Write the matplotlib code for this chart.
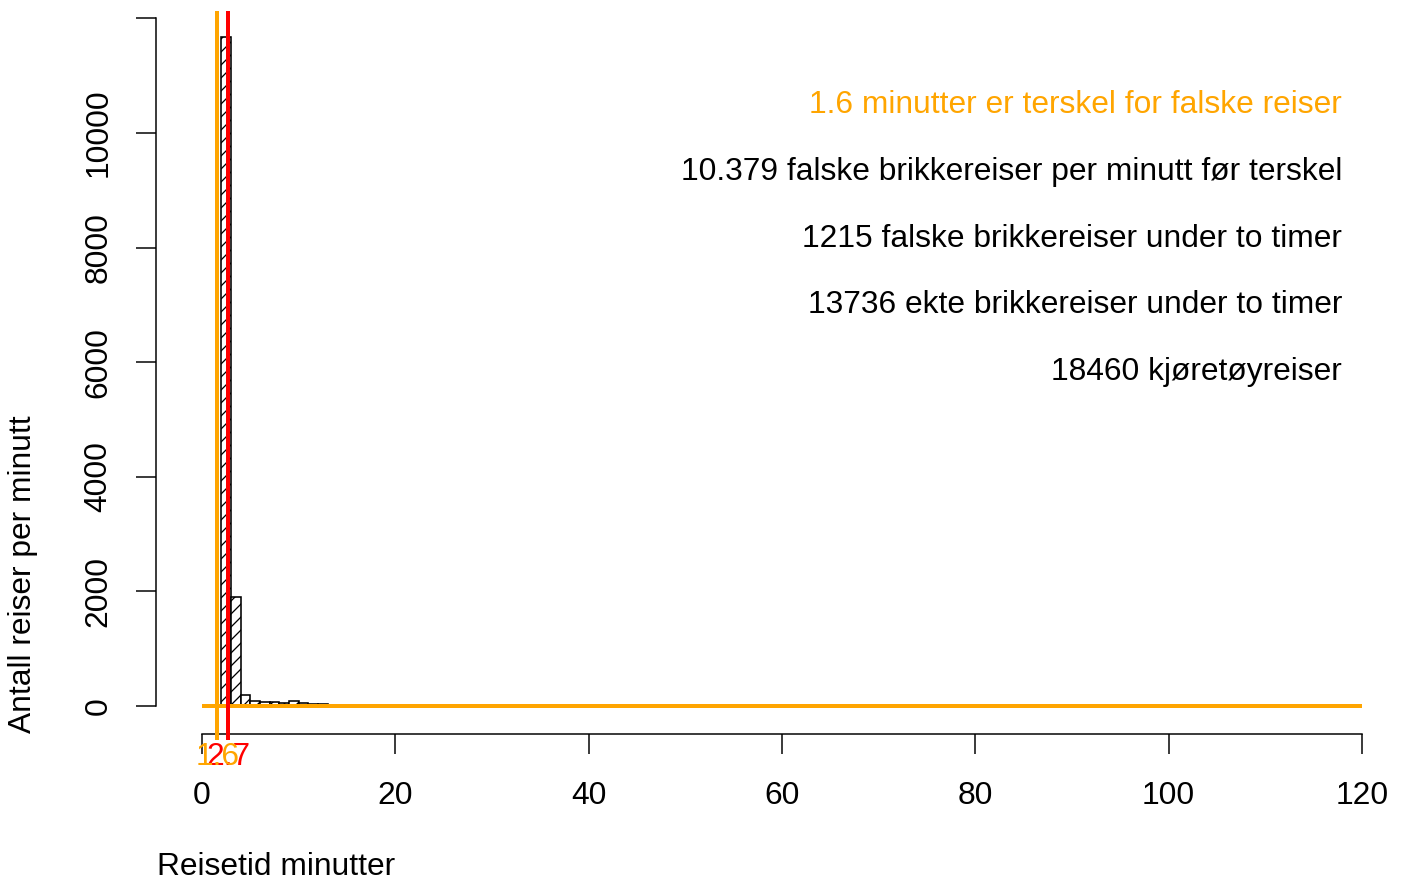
import matplotlib
matplotlib.use("Agg")
import matplotlib.pyplot as plt
import numpy as np

# ---- data ----
bin_edges = list(range(0, 21))  # 1-minute bins shown (rest ~0)
counts = [0, 15, 11670, 1897, 200, 95, 70, 70, 60, 80, 50, 40, 30, 20, 10, 5, 4, 3, 2, 2]
threshold_fake = 1.6
threshold_red = 2.7
x_ticks = [0, 20, 40, 60, 80, 100, 120]
y_ticks = [0, 2000, 4000, 6000, 8000, 10000, 12000]
y_ticklabels = ["0", "2000", "4000", "6000", "8000", "10000", ""]
annotations = [
    ("1.6 minutter er terskel for falske reiser", "orange"),
    ("10.379 falske brikkereiser per minutt før terskel", "black"),
    ("1215 falske brikkereiser under to timer", "black"),
    ("13736 ekte brikkereiser under to timer", "black"),
    ("18460 kjøretøyreiser", "black"),
]
xlabel = "Reisetid minutter"
ylabel = "Antall reiser per minutt"

# ---- figure geometry (pixels) ----
W, H = 1403, 880
DPI = 78
def pt(px):
    return px * 72.0 / DPI

plt.rcParams['font.family'] = ['Liberation Sans', 'DejaVu Sans']
plt.rcParams['hatch.linewidth'] = pt(1.3)
FS = pt(31.7)

fig = plt.figure(figsize=(W / DPI, H / DPI), dpi=DPI)

x0_px, x120_px = 202.0, 1362.0
sx = (x120_px - x0_px) / 120.0
y0_px, y10k_px = 706.0, 133.0
sy = (y0_px - y10k_px) / 10000.0

ax_left_px = x0_px - 0.04 * 120 * sx
ax_bottom_px = y0_px + 0.04 * 12000 * sy
ax_top_px = 0.0
ax = fig.add_axes([ax_left_px / W, 1 - ax_bottom_px / H,
                   (W - ax_left_px) / W, (ax_bottom_px - ax_top_px) / H])
ax.set_xlim((ax_left_px - x0_px) / sx, (W - x0_px) / sx)
ax.set_ylim(-(ax_bottom_px - y0_px) / sy, (y0_px - ax_top_px) / sy)

# histogram bars
edges = np.array(bin_edges[:len(counts) + 1], dtype=float)
ax.bar(edges[:-1], counts, width=np.diff(edges), align='edge',
       facecolor='white', edgecolor='black', hatch='//', linewidth=pt(1.6), zorder=2)

# baseline in orange
ax.plot([0, 120], [0, 0], color='orange', lw=pt(4), zorder=3, solid_capstyle='butt')

# vertical threshold lines spanning most of figure
line_top = (y0_px - 11) / sy
line_bot = -(740 - y0_px) / sy
for xv, col in [(threshold_red, 'red'), (threshold_fake, 'orange')]:
    ax.plot([xv, xv], [line_bot, line_top], color=col, lw=pt(4), zorder=4,
            clip_on=False, solid_capstyle='butt')

# axes styling
for s in ['top', 'right']:
    ax.spines[s].set_visible(False)
ax.spines['left'].set_bounds(0, 12000)
ax.spines['bottom'].set_bounds(0, 120)
ax.spines['left'].set_linewidth(pt(1.5))
ax.spines['bottom'].set_linewidth(pt(1.5))
ax.set_xticks(x_ticks)
ax.set_xticklabels([str(v) for v in x_ticks])
ax.set_yticks(y_ticks)
ax.set_yticklabels(y_ticklabels, rotation=90, va='center')
ax.tick_params(axis='both', direction='out', length=pt(20), width=pt(1.5),
               labelsize=FS)
ax.tick_params(axis='x', pad=pt(27))
ax.tick_params(axis='y', pad=pt(22))
ax.patch.set_visible(False)

# threshold labels below axis
ax.text(threshold_red, -(742 - y0_px) / sy, "2.7", color='red', fontsize=FS,
        ha='center', va='top', clip_on=False)
ax.text(threshold_fake, -(742 - y0_px) / sy, "1.6", color='orange', fontsize=FS,
        ha='center', va='top', clip_on=False)

# annotations
baselines = [113, 180, 247, 313, 380]
for (txt, col), b in zip(annotations, baselines):
    fig.text(1342 / W, 1 - b / H, txt, color=col, fontsize=FS, ha='right', va='baseline')

fig.text(157 / W, 1 - 875 / H, xlabel, fontsize=FS, ha='left', va='baseline')
fig.text(23 / W, 1 - 733 / H, ylabel, fontsize=FS, ha='center', va='bottom', rotation=90)

fig.savefig("out.png", dpi=DPI)
